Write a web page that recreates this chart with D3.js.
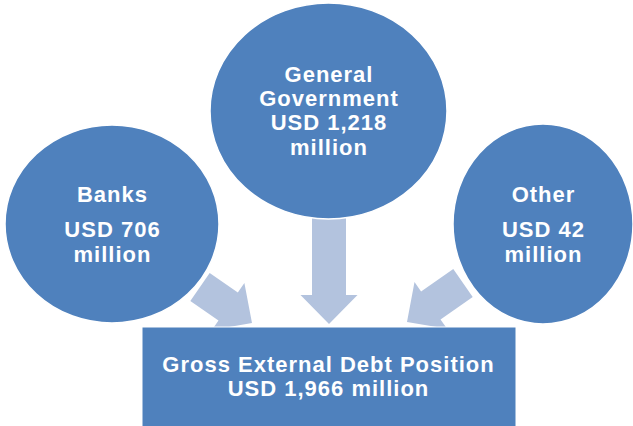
<!DOCTYPE html>
<html>
<head>
<meta charset="utf-8">
<script src="https://cdn.jsdelivr.net/npm/d3@7"></script>
<style>
  html, body { margin: 0; padding: 0; background: #fff; }
  svg { display: block; }
</style>
</head>
<body>
<div id="chart"></div>
<script>
// ---- data ----
const categories = ["Banks", "General Government", "Other"];
const values = [706, 1218, 42];
const totalLabel = "Gross External Debt Position";
const totalValue = 1966;
const unitPrefix = "USD";
const unitSuffix = "million";

// ---- layout ----
const W = 633, H = 426;
const blue = "#4f81bd", arrowFill = "#b3c3de";
const fmt = d3.format(",");
const FS = 22, LS = 1;

const svg = d3.select("#chart").append("svg")
  .attr("width", W).attr("height", H)
  .style("font-family", "'Liberation Sans', Arial, sans-serif");

// circle geometry per category
const circles = [
  { cx: 112, cy: 224, rx: 107, ry: 99,
    lines: d => [d.cat, `${unitPrefix} ${fmt(d.val)}`, unitSuffix], y0: 202, dy: [0, 35, 25] },
  { cx: 328.5, cy: 111, rx: 118.5, ry: 108,
    lines: d => ["General", "Government", `${unitPrefix} ${fmt(d.val)}`, unitSuffix], y0: 82, dy: [0, 24, 24, 25] },
  { cx: 543, cy: 224, rx: 90, ry: 100,
    lines: d => [d.cat, `${unitPrefix} ${fmt(d.val)}`, unitSuffix], y0: 202, dy: [0, 35, 25] }
];
const nodeData = categories.map((c, i) => Object.assign({ cat: c, val: values[i] }, circles[i]));

// arrows: tail center -> tip
const arrows = [
  { x0: 200, y0: 287, x1: 252, y1: 323 },
  { x0: 329, y0: 205, x1: 329, y1: 324 },
  { x0: 463, y0: 283, x1: 407, y1: 322 }
];
const w = 17, h = 28.5, hl = 29;
const line = d3.line();
svg.append("g").selectAll("path").data(arrows).join("path")
  .attr("fill", arrowFill)
  .attr("d", a => {
    const L = Math.hypot(a.x1 - a.x0, a.y1 - a.y0);
    return line([[0,-w],[L-hl,-w],[L-hl,-h],[L,0],[L-hl,h],[L-hl,w],[0,w]]) + "Z";
  })
  .attr("transform", a => `translate(${a.x0},${a.y0}) rotate(${Math.atan2(a.y1 - a.y0, a.x1 - a.x0) * 180 / Math.PI})`);

// circles
const g = svg.append("g").selectAll("g").data(nodeData).join("g");
g.append("ellipse")
  .attr("cx", d => d.cx).attr("cy", d => d.cy)
  .attr("rx", d => d.rx).attr("ry", d => d.ry)
  .attr("fill", blue).attr("stroke", "#fff").attr("stroke-width", 1.5);
g.each(function(d) {
  const ls = d.lines(d);
  let y = d.y0;
  const t = d3.select(this).append("text")
    .attr("text-anchor", "middle").attr("fill", "#fff")
    .attr("font-size", FS).attr("font-weight", "bold").attr("letter-spacing", LS);
  ls.forEach((s, i) => {
    y += d.dy[i];
    t.append("tspan").attr("x", d.cx + LS / 2).attr("y", y).text(s);
  });
});

// total box
svg.append("rect")
  .attr("x", 142).attr("y", 327).attr("width", 374).attr("height", 110)
  .attr("fill", blue).attr("stroke", "#fff").attr("stroke-width", 1);
const tt = svg.append("text").attr("text-anchor", "middle").attr("fill", "#fff")
  .attr("font-size", FS).attr("font-weight", "bold").attr("letter-spacing", LS);
tt.append("tspan").attr("x", 328.5).attr("y", 372).text(totalLabel);
tt.append("tspan").attr("x", 328.5).attr("y", 396).text(`${unitPrefix} ${fmt(totalValue)} ${unitSuffix}`);
</script>
</body>
</html>
